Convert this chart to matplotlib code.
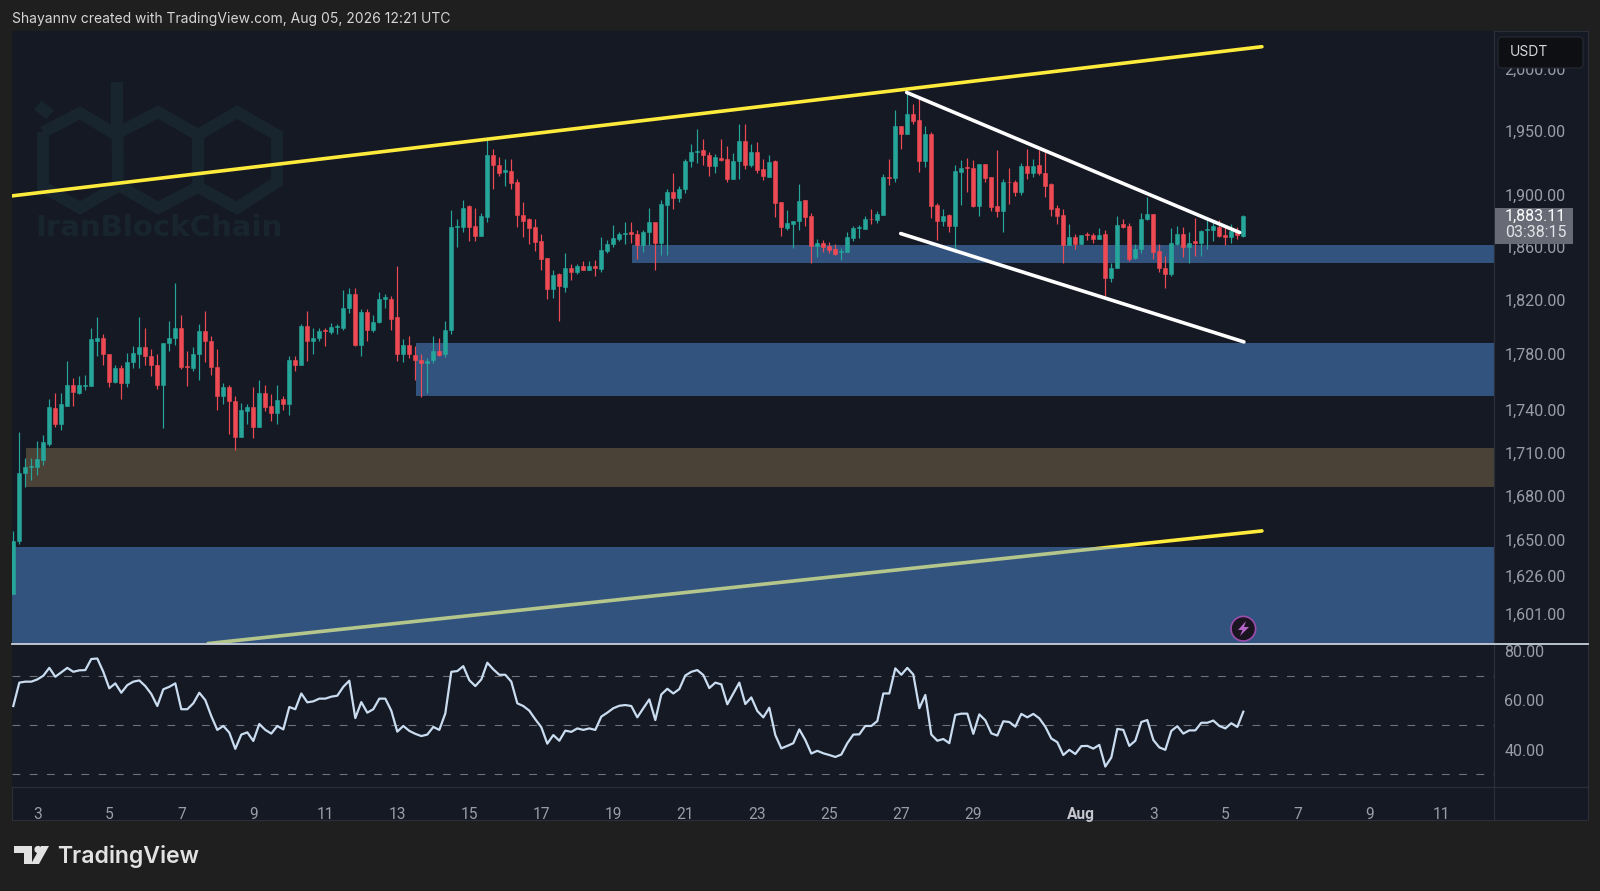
import matplotlib
matplotlib.use("Agg")
import matplotlib.pyplot as plt
from matplotlib.lines import Line2D
from matplotlib.patches import Rectangle, Circle, Polygon, FancyBboxPatch
from matplotlib.transforms import Affine2D

plt.rcParams['font.family'] = ['Inter', 'DejaVu Sans']

# 4-hour candles, index 0 = Jul 2 08:00
opens = [1614,1649,1696,1700,1700,1705,1716,1741.5,1730,1743,
 1757.5,1752,1757,1757,1790,1792,1780,1760,1770,1759,
 1774,1780.5,1785,1779,1772,1758,1788,1792,1799,1771.5,
 1770,1780,1797,1790,1771,1750,1756,1746,1721,1739,
 1742,1728,1752,1742.5,1738,1747.5,1744,1776,1772,1801,
 1790,1792,1798,1796,1800,1799.5,1814,1824,1787,1811,
 1798,1803.5,1821,1821,1807,1780,1787,1779.3,1776,1773.7,
 1775.6,1782.4,1780,1798,1875,1875,1891,1876,1868.5,1883,
 1931,1923,1918,1918.5,1910,1884.5,1881,1875,1864,1851.5,
 1828,1839,1829.5,1843.5,1841,1845,1842.5,1845,1843,1857,
 1862,1866,1869.5,1871,1870,1861,1871,1879,1862.5,1892,
 1902,1897.5,1904,1926,1933.6,1935,1931,1922,1929,1927.5,
 1912.5,1926,1942,1923,1933.5,1920,1914,1926,1894,1874,
 1877,1880,1895.5,1883.5,1860.5,1863,1860.5,1858,1856,1856,
 1866.5,1874,1873.5,1881.5,1880.5,1884.5,1914,1913,1954,1948,
 1963.7,1959,1926,1948,1892,1880,1884,1876,1918,1921.5,
 1921,1891,1924,1914,1891,1887.5,1910,1909.5,1902,1922,
 1917,1923,1917,1908,1889.5,1884,1861.5,1867,1862,1869.5,
 1869,1866,1869.5,1836.5,1844,1877,1876,1851.5,1858,1881,
 1885,1856.5,1843.5,1839.5,1862,1870,1859.5,1864,1862.5,1872.5,
 1872.5,1875,1869,1867,1872,1868]
highs = [1656,1724,1706,1706,1718,1722,1748,1752,1752,1775,
 1763,1764,1765,1799.5,1807.5,1795,1780,1772,1772.5,1781,
 1786,1807.5,1799,1784,1780,1788,1804,1832.5,1809,1782,
 1785,1802,1812,1793,1784,1759,1758,1750,1745,1744,
 1756,1761,1758,1751,1758,1750,1779,1779,1802.5,1812,
 1799.5,1799,1799,1803,1802.5,1827.5,1829,1829,1813,1813,
 1809,1826,1824,1823,1845,1791,1793,1786,1780,1777,
 1793,1792,1804.5,1888,1881,1895.5,1892,1890,1886,1945,
 1936,1929.5,1928,1928,1912,1894,1882,1881,1869.5,1851.5,
 1842.5,1840,1855,1846.5,1846.5,1849.5,1849,1850,1867,1865,
 1876.5,1871,1878.5,1879,1873,1873,1890,1879,1895.5,1904.5,
 1916.5,1907,1928,1939.6,1952,1944,1933.6,1931.5,1943.5,1938,
 1932.5,1955.4,1955.7,1939.5,1941,1927.5,1931,1927,1894,1887.8,
 1880,1908.5,1895.5,1885.5,1866,1865,1863.5,1862,1859,1871,
 1876,1876.5,1883.5,1888.5,1887.5,1916,1927.5,1966.5,1954,1981,
 1971.5,1976.5,1954,1949.5,1893.5,1888.5,1885,1923,1927,1928.5,
 1927,1924,1924,1914,1935,1912,1921,1911,1924.5,1936,
 1928,1935,1935,1909,1892,1889,1877.5,1870,1869,1871,
 1870.5,1874,1873,1848,1883.5,1881.5,1878,1862,1886,1898,
 1885,1862,1853,1874,1875.5,1875,1871.5,1882,1873,1882,
 1879,1880.5,1876.5,1877,1875,1884]
lows = [1614,1647,1686,1691,1694,1701,1714.5,1728,1726,1742.5,
 1742.5,1751,1754.5,1757,1778.5,1772,1756.5,1759,1748,1756.5,
 1770,1770,1772,1764,1755,1727,1782,1787,1769,1757,
 1768,1761,1774,1765,1740,1744,1723,1712,1721,1730,
 1720,1728,1739,1732,1730,1740,1736,1768,1772,1775,
 1780.5,1789.5,1786,1794.5,1795,1798,1810,1786,1779,1789.5,
 1796,1803,1814,1798,1775,1774,1777,1761,1749.5,1752,
 1773.5,1778.5,1778,1795,1860,1871,1864,1864,1868.5,1879,
 1904,1914.5,1906.5,1904.5,1875,1867,1862,1856.5,1842.5,1821,
 1821.5,1804,1826,1835,1839,1842,1842,1837.6,1840.5,1855,
 1860,1864,1862,1863,1851,1856,1861,1842.5,1854,1853.5,
 1889,1894,1901,1921.6,1925,1923,1914.5,1916.5,1926.5,1910,
 1912,1912,1920,1921.6,1917,1911.6,1914,1882.5,1868.5,1873,
 1859,1873,1876,1847.5,1852.5,1856,1855,1854,1850,1856,
 1864,1866.5,1873.5,1877,1878,1884,1907.7,1910,1935.7,1948,
 1955.5,1918,1921.5,1882,1865,1875.5,1871,1856,1892,1902,
 1890.5,1883.5,1909.7,1887,1883,1871,1893,1899,1900,1912.5,
 1913.5,1915,1898,1883.5,1877,1848,1861,1858,1862,1865,
 1862.5,1865.5,1823,1833,1844,1874.5,1849,1851,1855,1880.5,
 1850.7,1840.5,1828.5,1837.5,1861.5,1852,1848,1853,1853,1858,
 1864,1867.5,1861,1863,1865.5,1867]
closes = [1649,1696,1699.5,1700.3,1705.5,1717,1742,1730,1744,1757.5,
 1753,1757.5,1758,1791,1792,1780,1760,1770,1759,1774,
 1781,1785,1779,1772,1758,1788,1792,1799,1771,1771,
 1780,1797,1790,1771,1750,1756,1746,1721,1740,1742,
 1728,1752,1742,1738,1747,1744,1776,1772,1801,1790,
 1792,1797,1797,1800,1800.5,1814,1824,1787,1811,1798,
 1803.5,1821,1822,1806,1780,1787,1780,1775.6,1773.7,1775.4,
 1782.4,1779.5,1798,1875,1876,1890,1875,1868.5,1883.5,1931,
 1923,1916.5,1919,1909,1884,1880,1874,1863.4,1851,1828,
 1838.6,1830,1843.5,1841,1845,1842.5,1845,1843.5,1857.5,1862,
 1866.5,1869.5,1870.5,1870,1861,1871,1879,1862.5,1893,1902,
 1897.5,1904.5,1926.5,1933.6,1934.5,1931,1922,1929.5,1927,1912.5,
 1926.5,1942,1923,1933.5,1919.5,1914.5,1925.5,1893.8,1875,1878,
 1880,1895,1883,1860.5,1863,1860,1857.5,1854.5,1857,1867,
 1874,1875,1881.5,1881,1885,1913.6,1913,1954,1948,1963.7,
 1958,1926,1947.5,1891,1880,1883.5,1875.5,1918.5,1921,1921,
 1891,1924,1913,1890.5,1887,1909.7,1909.5,1902,1922,1917,
 1922,1917,1906.5,1889,1883.5,1861.5,1867,1862,1869,1869,
 1865.5,1869,1836.5,1844,1876.5,1875,1850.7,1858,1881.5,1885,
 1856,1843.5,1839,1862.5,1870,1859.5,1863,1863,1872,1873.5,
 1875.5,1868,1867.5,1872,1869,1883.11]
rsi = [57.7,67.2,67.6,67.6,68.5,70.0,73.2,69.6,71.4,73.2,
 71.6,72.2,72.3,76.8,77.0,71.6,64.9,66.9,63.1,66.2,
 67.6,68.1,65.8,62.6,57.7,64.5,65.5,66.9,56.4,56.4,
 58.8,63.1,60.1,53.6,48.0,49.6,46.9,40.3,46.1,47.0,
 43.5,50.4,48.0,46.5,49.6,48.2,57.3,56.4,62.8,59.2,
 59.6,60.7,60.7,61.5,61.9,65.5,68.0,52.8,59.3,55.0,
 56.4,60.7,60.7,55.8,47.3,49.6,47.6,46.4,45.5,46.1,
 49.2,48.0,54.7,71.6,71.9,73.9,68.2,65.8,68.5,75.3,
 72.6,70.4,70.4,67.6,58.8,57.7,55.8,52.3,49.1,42.4,
 45.9,43.6,47.7,47.2,48.6,48.0,48.6,48.0,53.4,55.0,
 56.8,57.8,58.1,57.7,53.1,56.8,60.4,52.0,62.4,64.7,
 62.8,64.6,70.1,71.6,72.3,70.3,65.0,67.2,66.5,58.4,
 62.8,67.2,58.5,61.2,55.7,53.1,57.0,45.9,40.5,41.5,
 42.6,48.2,43.9,38.4,39.5,38.5,37.8,37.0,38.0,42.6,
 46.1,46.2,49.6,49.6,51.6,62.8,62.8,73.0,70.4,73.2,
 70.5,56.8,62.2,46.1,43.6,44.3,42.6,54.1,54.6,54.6,
 46.4,54.3,51.9,46.6,45.7,51.5,51.2,49.3,54.5,53.1,
 54.5,52.7,49.3,44.5,43.0,37.8,39.9,38.2,41.4,41.5,
 40.4,41.9,33.1,36.8,48.4,48.0,41.5,43.6,51.2,52.0,
 43.9,40.9,39.9,47.6,49.5,46.5,47.8,47.8,50.9,50.9,
 51.8,49.6,48.6,50.7,49.2,55.4]

price_ticks = [2000, 1950, 1900, 1860, 1820, 1780, 1740, 1710, 1680, 1650, 1626, 1601]
rsi_ticks = [80, 60, 40]
rsi_bands = [70, 50, 30]
time_ticks = [4, 16, 28, 40, 52, 64, 76, 88, 100, 112, 124, 136, 148, 160, 178, 190, 202, 214, 226, 238]
time_labels = ['3', '5', '7', '9', '11', '13', '15', '17', '19', '21', '23', '25', '27', '29',
               'Aug', '3', '5', '7', '9', '11']

# zones: start index, upper price, lower price
zone_small = (103.1, 1861.5, 1847.5)
zone_mid = (67.1, 1788.5, 1750)
zone_tan = (2.1, 1712.8, 1686)
zone_low = (-0.3, 1645, 1570)

# drawn trend lines: index ends, price ends
yellow_top_x, yellow_top_p = [-0.22, 208.1], [1899, 2018.4]
yellow_low_x, yellow_low_p = [32.45, 208.1], [1581.5, 1656]
white_top_x, white_top_p = [148.9, 204.4], [1981, 1870.8]
white_low_x, white_low_p = [147.9, 205.1], [1870, 1789]

W, H = 1600, 891
BG = '#1e1f1e'
PANEL = '#151924'
GRID = '#2b2f3a'
TXT = '#9a9da6'
UP = '#26a69a'
DOWN = '#ee4a54'
BLUE = (89/255, 155/255, 239/255, 0.45)
SCALE_FONT = ['Roboto', 'DejaVu Sans']
SCALE_SIZE = 11.5

fig = plt.figure(figsize=(W/100, H/100), dpi=100, facecolor=BG)
px = Affine2D().scale(1/W, -1/H).translate(0, 1) + fig.transFigure


def axes_px(l, t, r, b):
    return fig.add_axes([l/W, 1-b/H, (r-l)/W, (b-t)/H])


# scale panel behind the axes
fig.add_artist(Rectangle((12, 31), 1576, 789, transform=px, fc=PANEL, ec=GRID, lw=0.8, zorder=-2))

ax = axes_px(12, 31, 1494, 644)
ax2 = axes_px(12, 644, 1494, 787)
for a in (ax, ax2):
    a.set_facecolor(PANEL)
    for s in a.spines.values():
        s.set_visible(False)
    a.set_xlim(-0.217, 246.78)

# watermark
wm = '#18252f'
logo_paths = [
    [(43, 132), (80, 113), (117, 135), (117, 82), (118, 186), (80, 208), (43, 187), (43, 132)],
    [(118, 133), (158, 112), (198, 135), (237, 112), (277, 135), (277, 182), (237, 208),
     (198, 187), (158, 208), (118, 185)],
    [(198, 135), (198, 187)],
    [(38, 105), (50, 115)],
]
for path in logo_paths:
    ax.add_line(Line2D([p[0] for p in path], [p[1] for p in path], transform=px, color=wm, lw=8.5,
                       solid_joinstyle='miter', solid_capstyle='butt', zorder=0.5, clip_on=False))
ax.text(35, 228, 'IranBlockChain', transform=px, color=wm, fontsize=21, fontweight='bold',
        family='DejaVu Sans', va='center', ha='left', zorder=0.5)

# price pane
ax.set_yscale('log')
ax.set_ylim(1581.2, 2031.4)
ax.plot(yellow_low_x, yellow_low_p, color='#ffeb3b', lw=2.6, solid_capstyle='round', zorder=1)
x_right = ax.get_xlim()[1]
for start, top, bottom in (zone_small, zone_mid, zone_low):
    ax.add_patch(Rectangle((start, bottom), x_right-start, top-bottom, fc=BLUE, ec='none', zorder=2))
ax.add_patch(Rectangle((zone_tan[0], zone_tan[2]), x_right-zone_tan[0], zone_tan[1]-zone_tan[2],
                       fc='#4b4237', ec='none', zorder=2))

xs = list(range(len(opens)))
cols = [UP if c >= o else DOWN for o, c in zip(opens, closes)]
ax.vlines(xs, lows, highs, colors=cols, lw=0.85, zorder=3)
ax.bar(xs, [abs(c-o) for o, c in zip(opens, closes)], bottom=[min(o, c) for o, c in zip(opens, closes)],
       width=0.72, color=cols, edgecolor=cols, lw=0.4, zorder=3.1)

ax.plot(yellow_top_x, yellow_top_p, color='#ffeb3b', lw=2.6, solid_capstyle='round', zorder=4)
ax.plot(white_top_x, white_top_p, color='white', lw=2.6, solid_capstyle='round', zorder=4)
ax.plot(white_low_x, white_low_p, color='white', lw=2.6, solid_capstyle='round', zorder=4)

ax.set_xticks([])
ax.set_yticks(price_ticks, [f'{p:,.2f}' for p in price_ticks], family=SCALE_FONT)
ax.minorticks_off()
ax.tick_params(axis='y', left=False, right=False, labelleft=False, labelright=True, pad=4,
               labelsize=SCALE_SIZE, labelcolor=TXT)

# RSI pane
ax2.set_ylim(24.8, 82.9)
for level in rsi_bands:
    ax2.axhline(level, color='#6f727c', lw=0.8, dashes=(7, 8.5), zorder=1)
ax2.plot(xs, rsi, color='#c9dcf0', lw=1.6, solid_joinstyle='round', zorder=3)
ax2.set_yticks(rsi_ticks, [f'{v:.2f}' for v in rsi_ticks], family=SCALE_FONT)
ax2.tick_params(axis='y', left=False, right=False, labelleft=False, labelright=True, pad=4,
                labelsize=SCALE_SIZE, labelcolor=TXT)
ax2.set_xticks(time_ticks, time_labels, family=SCALE_FONT)
ax2.tick_params(axis='x', bottom=False, pad=11, labelsize=SCALE_SIZE-0.3, labelcolor=TXT)
for lab in ax2.get_xticklabels():
    if lab.get_text() == 'Aug':
        lab.set_color('#c4c6cc')
        lab.set_fontweight('bold')

# pane borders
fig.add_artist(Line2D([1494, 1494], [31, 820], transform=px, color=GRID, lw=0.9, zorder=3))
fig.add_artist(Line2D([12, 1588], [787, 787], transform=px, color=GRID, lw=0.9, zorder=3))
fig.add_artist(Line2D([12, 1588], [643.5, 643.5], transform=px, color='#c8d0dc', lw=1.3, zorder=3))

# USDT box and last price label
fig.add_artist(FancyBboxPatch((1500, 39), 81, 27, boxstyle='round,pad=2,rounding_size=4', transform=px,
                              fc='#0e0f12', ec='#262a33', lw=0.8, zorder=5))
fig.text(1510/W, 1-52.5/H, 'USDT', color='#d6d7da', fontsize=10, va='center', ha='left', zorder=6)
fig.add_artist(Rectangle((1495, 207.5), 78, 36.5, transform=px, fc='#686b76', ec='none', zorder=5))
fig.text(1505/W, 1-216.5/H, f'{closes[-1]:,.2f}', color='white', fontsize=SCALE_SIZE, family=SCALE_FONT,
         va='center', ha='left', zorder=6)
fig.text(1505/W, 1-232.5/H, '03:38:15', color='#e2e3e6', fontsize=SCALE_SIZE, family=SCALE_FONT,
         va='center', ha='left', zorder=6)

# lightning marker
fig.add_artist(Circle((1243.3, 628.7), 12.3, transform=px, fc='#1a1420', ec='#9c4dac', lw=1.2, zorder=5))
fig.add_artist(Polygon([(1246, 621), (1238, 630), (1242.5, 630), (1240, 636), (1249, 627), (1244, 627)],
                       closed=True, transform=px, fc='#b565c8', ec='none', zorder=6))

# header and footer
fig.text(12/W, 1-18.5/H, 'Shayannv created with TradingView.com, Aug 05, 2026 12:21 UTC', color='#d6d6d6',
         fontsize=10, va='center', ha='left')
tv = '#e2e2e2'
fig.add_artist(Polygon([(14, 846), (32, 846), (32, 864), (24, 864), (24, 853), (14, 853)], closed=True,
                       transform=px, fc=tv, ec='none'))
fig.add_artist(Circle((38, 849.5), 3.6, transform=px, fc=tv, ec='none'))
fig.add_artist(Polygon([(41, 846), (49, 846), (39, 864), (31, 864)], closed=True, transform=px, fc=tv, ec='none'))
fig.text(57/W, 1-857/H, 'TradingView', color=tv, fontsize=16.6, fontweight='semibold', va='center', ha='left')

fig.savefig('out.png', dpi=100, facecolor=BG)
